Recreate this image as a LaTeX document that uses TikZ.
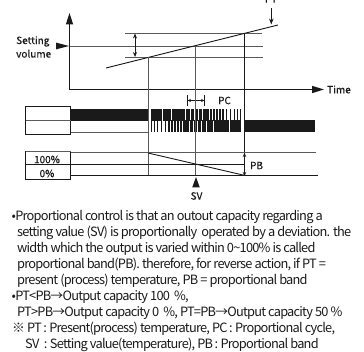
\documentclass[tikz,border=0pt]{standalone}
\usepackage{fontspec}
\setmainfont{Noto Sans CJK KR}
\usetikzlibrary{arrows.meta}
\definecolor{ink}{HTML}{1A1A1A}
\definecolor{gline}{HTML}{5A5A5A}
\newcommand{\pulsebars}{%
  \foreach \s/\w in {151/11.2,163/7.6,171.5/7,179.3/5.6,185.6/4.4,190.6/3.8,195/3.4,199/3.2,202.7/2.9,206.2/2.7,209.6/2.5,212.8/2.2,215.8/2,219/1.8,222.4/1.5,226/1.3,230/1.1,233.6/1,237/1,240.2/.9}{
    \fill[ink] (\s,109) rectangle ++(\w,12);
  }}
\newcommand{\cln}{\hspace{1.5pt}:\hspace{2.5pt}}
\tikzset{
  x=1pt,y=-1pt,
  blk/.style={draw=ink,line width=.9pt},
  gry/.style={draw=gline,line width=.9pt},
  thin arrow/.style={draw=ink,line width=.8pt,{Stealth[length=5pt,width=4pt]}-{Stealth[length=5pt,width=4pt]}},
  lbl/.style={inner sep=0pt,font=\fontsize{10}{10}\addfontfeatures{FakeBold=0.4}\selectfont,text=ink},
  para/.style={inner sep=0pt,anchor=base west,font=\fontsize{12.8}{12.8}\addfontfeatures{LetterSpace=-6}\selectfont,text=ink},
  head/.style={fill=ink,draw=none}
}
\begin{document}
\begin{tikzpicture}
\useasboundingbox (0,0) rectangle (364,352);
% named anchors of the graph
\coordinate (org) at (69.5,89.5);
\coordinate (ytip) at (69.5,13);
\coordinate (xtip) at (324,89.5);
% reference lines
\draw[gry] (125,33.5) -- (262,33.5);
\draw[gry] (69.5,46) -- (263,46);
\draw[gry] (125,57) -- (263,57);
% axes
\draw[blk] (69.5,22) -- (org) -- (314,89.5);
\fill[head] (ytip) -- (73.2,24.5) -- (65.8,24.5) -- cycle;
\fill[head] (xtip) -- (312,85.8) -- (312,93.2) -- cycle;
\fill[head] (69,46) -- (56,42.6) -- (56,49.4) -- cycle;
\node[lbl,anchor=west] (time) at (327,89.5) {Time};
\node[lbl,align=left,anchor=west,font=\fontsize{10}{13.5}\addfontfeatures{FakeBold=0.4}\selectfont] (sv2) at (16,47) {Setting\\volume};
% band arrow
\coordinate (ba) at (135,33.5); \coordinate (bb) at (135,57);
\draw[thin arrow] (ba) -- (bb);
% PT slope
\draw[blk] (106,68) -- (278,25);
\coordinate (pta) at (271.3,8); \coordinate (ptb) at (271.3,24.5);
\draw[draw=ink,line width=.8pt,-{Stealth[length=6pt,width=4.5pt]}] (pta) -- (ptb);
\node[lbl] (pt) at (271,-1) {PT};
% PC
\draw[blk,line width=.7pt] (187.5,95) -- (187.5,106.5) (204.5,95) -- (204.5,106.5);
\coordinate (pca) at (187.5,100.5); \coordinate (pcb) at (204.5,100.5);
\draw[draw=ink,line width=.6pt,{Stealth[length=3.5pt,width=3pt]}-{Stealth[length=3.5pt,width=3pt]}] (pca) -- (pcb);
\node[lbl] (pc) at (224.5,100.5) {PC};
% output table
\draw[blk] (25.5,106.5) rectangle (70.5,134.5);
\draw[gry] (25.5,120.5) -- (70.5,120.5);
\draw[gry] (70.5,132) -- (148,132);
\fill[ink] (70.5,109) rectangle (148,121);
\pulsebars
\begin{scope}[xshift=392pt,xscale=-1,yshift=-11.5pt]
\pulsebars
\end{scope}
\fill[ink] (245,120.5) rectangle (315,132);
% verticals
\draw[draw=gline,line width=1pt] (148,57) -- (148,175.3);
\draw[draw=gline,line width=1pt] (195.5,46) -- (195.5,175.3);
\draw[draw=ink,line width=1pt] (244.5,33) -- (244.5,175.3);
% percent table
\draw[gry] (70.5,152.8) -- (316,152.8);
\draw[blk] (25.5,164.5) -- (245,164.5);
\draw[blk] (70.5,175.5) -- (318,175.5);
\draw[blk] (25.5,151.5) rectangle (70.5,179.3);
\draw[gry,line width=1.1pt] (25.5,151.3) -- (70.5,151.3);
\node[lbl] (hi) at (47,159.5) {100\%};
\node[lbl] (lo) at (47,173.5) {0\%};
\draw[blk] (148,153) -- (245,175.5);
\coordinate (pba) at (244.5,153); \coordinate (pbb) at (244.5,176);
\draw[draw=ink,line width=.7pt,{Stealth[length=4pt,width=3.5pt]}-{Stealth[length=4pt,width=3.5pt]}] (pba) -- (pbb);
\node[lbl] (pb) at (256.5,165.5) {PB};
\fill[head] (196,177) -- (199.8,187.5) -- (192.2,187.5) -- cycle;
\node[lbl] (sv) at (196.5,196) {SV};
% paragraph
\node[para] (l1) at (11.5,221) {•Proportional control is that an outout capacity regarding a};
\node[para] (l2) at (17,237) {setting value (SV) is proportionally\ \ operated by a deviation. the};
\node[para] (l3) at (17,253) {width which the output is varied within 0\char"007E 100\% is called};
\node[para] (l4) at (17,269) {proportional band(PB). therefore, for reverse action, if PT =};
\node[para] (l5) at (17,285) {present (process) temperature, PB = proportional band};
\node[para] (l6) at (11.5,301) {•PT<PB→Output capacity 100\ \ \%,};
\node[para] (l7) at (17,317) {PT>PB→Output capacity 0\ \ \%, PT=PB→Output capacity 50 \%};
\node[para] (l8) at (12,333) {※ PT\cln Present(process) temperature, PC\cln Proportional cycle,};
\node[para] (l9) at (25,349) {SV\hspace{3pt}\cln Setting value(temperature), PB\cln Proportional band};
\end{tikzpicture}
\end{document}
